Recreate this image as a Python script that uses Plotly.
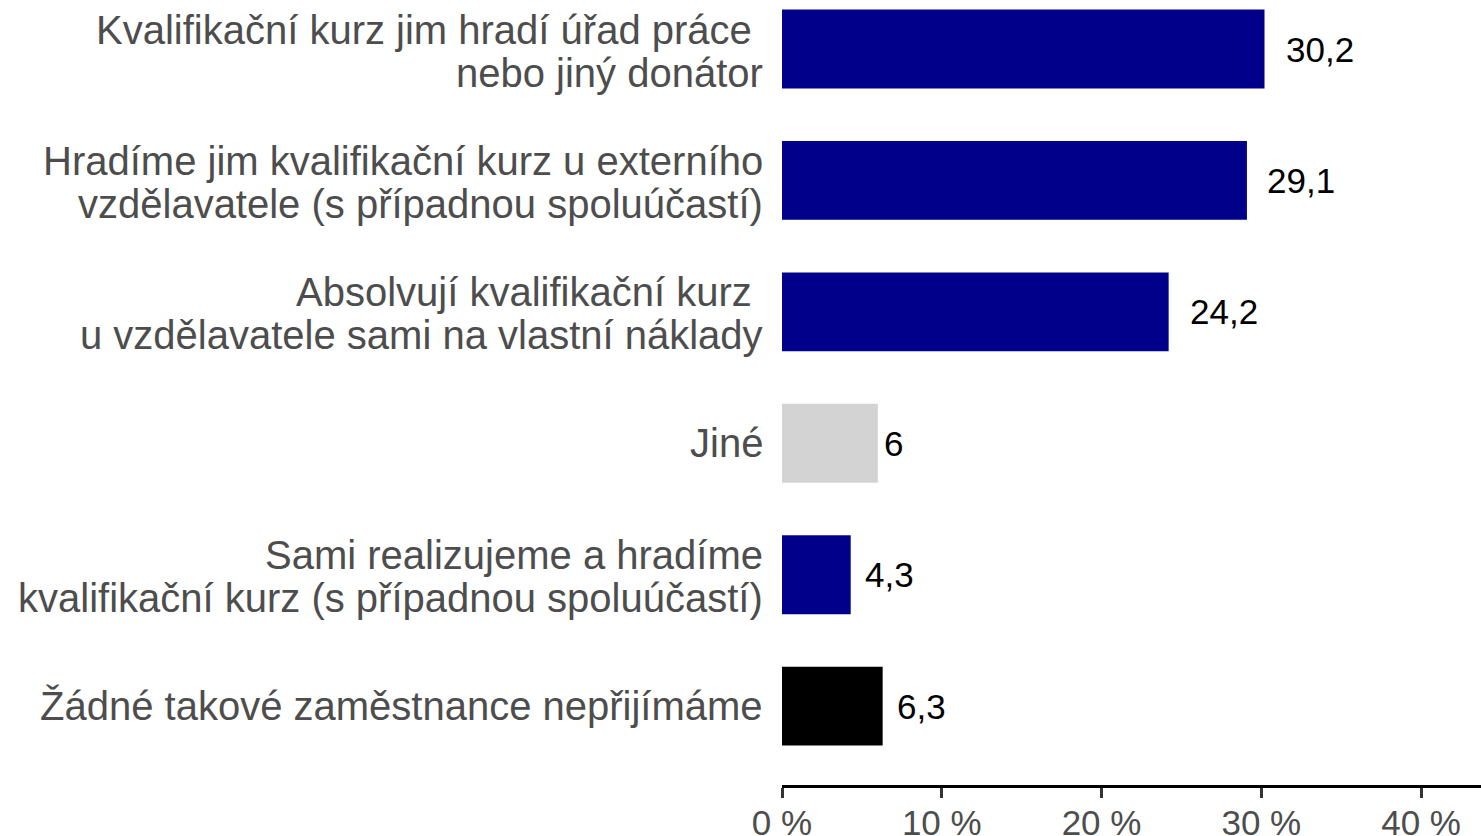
import plotly.graph_objects as go

categories = [
    "Kvalifikační kurz jim hradí úřad práce\u00a0<br>nebo jiný donátor",
    "Hradíme jim kvalifikační kurz u externího<br>vzdělavatele (s případnou spoluúčastí)",
    "Absolvují kvalifikační kurz\u00a0<br>u vzdělavatele sami na vlastní náklady",
    "Jiné",
    "Sami realizujeme a hradíme<br>kvalifikační kurz (s případnou spoluúčastí)",
    "Žádné takové zaměstnance nepřijímáme",
]
values = [30.2, 29.1, 24.2, 6.0, 4.3, 6.3]
value_labels = ["30,2", "29,1", "24,2", "6", "4,3", "6,3"]
bar_colors = ["#00008B", "#00008B", "#00008B", "#D3D3D3", "#00008B", "#000000"]
tick_vals = [0, 10, 20, 30, 40]
tick_text = ["0 %", "10 %", "20 %", "30 %", "40 %"]

# pixel gaps between bar end and value label (style)
label_gaps = [19, 18, 19, 4, 12, 12]

FONT = "Liberation Sans, Arial, sans-serif"
CAT_SIZE = 40
VAL_SIZE = 35
LINE_STEP = 43

fig = go.Figure()
fig.add_trace(go.Bar(
    x=values,
    y=categories,
    orientation="h",
    marker=dict(color=bar_colors, line=dict(width=0)),
    width=0.6,
    hoverinfo="skip",
))

# value labels
for v, lab, cat, g in zip(values, value_labels, categories, label_gaps):
    fig.add_annotation(
        x=v, y=cat, text=lab, showarrow=False,
        xanchor="left", yanchor="middle", xshift=g,
        font=dict(family=FONT, size=VAL_SIZE, color="#000000"),
    )

# category labels (one annotation per line for tight line spacing)
for cat in categories:
    lines = cat.split("<br>")
    n = len(lines)
    for i, line in enumerate(lines):
        off = (i - (n - 1) / 2) * LINE_STEP
        fig.add_annotation(
            x=0, y=cat, text=line, showarrow=False,
            xanchor="right", yanchor="middle",
            xshift=-17, yshift=-off - (2 if n > 1 else 0),
            font=dict(family=FONT, size=CAT_SIZE, color="#4D4D4D"),
        )

fig.update_layout(
    width=1481, height=836,
    margin=dict(l=782, r=0, t=0, b=51, autoexpand=False),
    paper_bgcolor="white", plot_bgcolor="white",
    showlegend=False,
    font=dict(family=FONT, size=34, color="#4D4D4D"),
)
fig.update_xaxes(
    range=[0, 43.75],
    tickvals=tick_vals, ticktext=tick_text,
    showgrid=False, zeroline=False,
    showline=True, linecolor="#000000", linewidth=2.5,
    ticks="outside", ticklen=10, tickwidth=2.5, tickcolor="#333333",
    tickfont=dict(family=FONT, size=35, color="#4D4D4D"),
    ticklabelstandoff=-5,
    automargin=False,
    fixedrange=True,
)
fig.update_yaxes(
    type="category",
    categoryorder="array", categoryarray=categories,
    range=[5.6, -0.373],
    showgrid=False, zeroline=False, showline=False,
    ticks="", showticklabels=False,
    automargin=False,
    fixedrange=True,
)

fig.write_html(
    "out.html",
    config={"displayModeBar": False},
    post_script="document.body.style.margin='0';document.body.style.overflow='hidden';",
)
